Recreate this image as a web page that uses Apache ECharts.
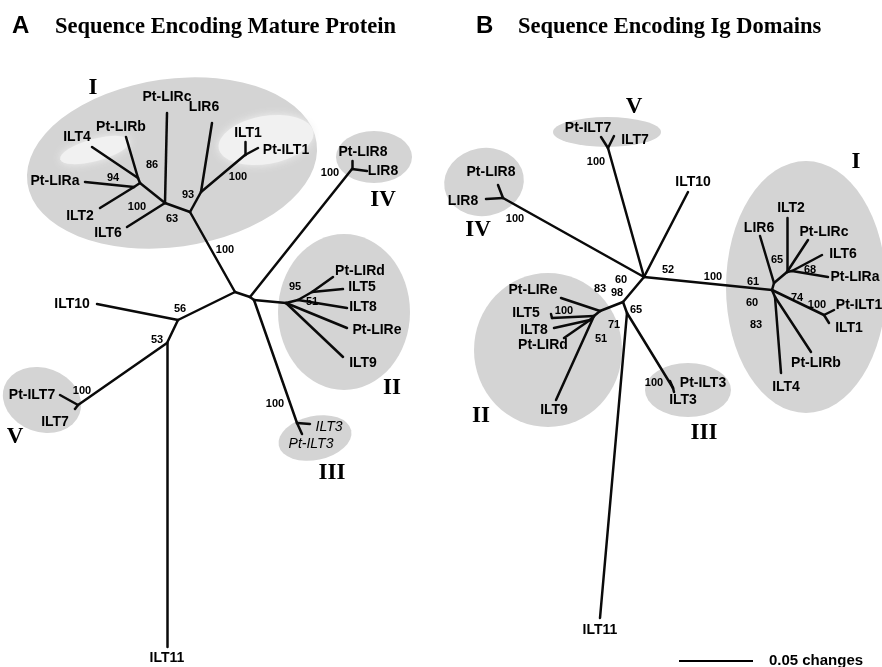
<!DOCTYPE html>
<html>
<head>
<meta charset="utf-8">
<script src="https://cdn.jsdelivr.net/npm/echarts@6/dist/echarts.min.js"></script>
<style>
html,body{margin:0;padding:0;background:#fff;}
#chart{width:882px;height:667px;}
</style>
</head>
<body>
<div id="chart"></div>
<script>
// Unrooted neighbour-joining trees: node positions in drawing units (branch lengths).
// Tree A: sequence encoding mature protein
const nodesA = [
  ['A.root', 235, 292], ['A.n1', 250, 297], ['A.n2', 254, 300],
  ['A.IV', 352, 169], ['A.Pt-LIR8', 352, 161], ['A.LIR8', 367, 171],
  ['A.II', 286, 303], ['A.II51', 298, 300], ['A.II95', 312, 292],
  ['A.Pt-LIRd', 333, 277], ['A.ILT5', 343, 289], ['A.ILT8', 347, 308],
  ['A.Pt-LIRe', 347, 328], ['A.ILT9', 343, 357],
  ['A.III', 297, 423], ['A.ILT3', 310, 424], ['A.Pt-ILT3', 302, 434],
  ['A.I', 190, 212], ['A.I63', 165, 203], ['A.I93', 201, 192],
  ['A.Pt-LIRc', 167, 113], ['A.ILT6', 127, 227], ['A.I100', 140, 183],
  ['A.I86', 138, 178], ['A.ILT4', 92, 147], ['A.Pt-LIRb', 126, 137],
  ['A.I94', 134, 187], ['A.Pt-LIRa', 85, 182], ['A.ILT2', 100, 208],
  ['A.LIR6', 212, 123], ['A.Ic1', 245, 155], ['A.ILT1', 245, 142], ['A.Pt-ILT1', 258, 148],
  ['A.n56', 178, 320], ['A.ILT10', 97, 304], ['A.n53', 167, 343],
  ['A.ILT11', 167, 647], ['A.V', 78, 405], ['A.Pt-ILT7', 60, 395], ['A.ILT7', 75, 409]
];
const edgesA = [
  ['A.root', 'A.I'], ['A.root', 'A.n1'], ['A.root', 'A.n56'],
  ['A.n1', 'A.IV'], ['A.IV', 'A.Pt-LIR8'], ['A.IV', 'A.LIR8'],
  ['A.n1', 'A.n2'], ['A.n2', 'A.II'], ['A.n2', 'A.III'],
  ['A.III', 'A.ILT3'], ['A.III', 'A.Pt-ILT3'],
  ['A.II', 'A.II51'], ['A.II51', 'A.II95'], ['A.II95', 'A.Pt-LIRd'], ['A.II95', 'A.ILT5'],
  ['A.II51', 'A.ILT8'], ['A.II', 'A.Pt-LIRe'], ['A.II', 'A.ILT9'],
  ['A.I', 'A.I63'], ['A.I', 'A.I93'],
  ['A.I63', 'A.Pt-LIRc'], ['A.I63', 'A.ILT6'], ['A.I63', 'A.I100'],
  ['A.I100', 'A.I86'], ['A.I86', 'A.ILT4'], ['A.I86', 'A.Pt-LIRb'],
  ['A.I100', 'A.I94'], ['A.I94', 'A.Pt-LIRa'], ['A.I94', 'A.ILT2'],
  ['A.I93', 'A.LIR6'], ['A.I93', 'A.Ic1'], ['A.Ic1', 'A.ILT1'], ['A.Ic1', 'A.Pt-ILT1'],
  ['A.n56', 'A.ILT10'], ['A.n56', 'A.n53'], ['A.n53', 'A.ILT11'], ['A.n53', 'A.V'],
  ['A.V', 'A.Pt-ILT7'], ['A.V', 'A.ILT7']
];

// Tree B: sequence encoding Ig domains
const nodesB = [
  ['B.root', 644, 277], ['B.ILT10', 688, 192],
  ['B.V', 608, 148], ['B.Pt-ILT7', 601, 137], ['B.ILT7', 614, 136],
  ['B.IV', 503, 198], ['B.Pt-LIR8', 498, 185], ['B.LIR8', 486, 199],
  ['B.n98', 623, 302], ['B.n65', 627, 313], ['B.ILT11', 600, 618],
  ['B.III', 673, 388], ['B.Pt-ILT3', 670, 381], ['B.ILT3', 674, 392],
  ['B.II', 600, 311], ['B.Pt-LIRe', 561, 298], ['B.II71', 594, 316],
  ['B.II100', 552, 318], ['B.ILT5', 551, 314], ['B.II51', 590, 320],
  ['B.ILT8', 554, 328], ['B.Pt-LIRd', 564, 338], ['B.ILT9', 556, 400],
  ['B.I', 772, 290], ['B.I61', 774, 283], ['B.LIR6', 760, 236],
  ['B.I65', 787, 272], ['B.ILT2', 787, 218], ['B.Pt-LIRc', 808, 240],
  ['B.I68', 792, 271], ['B.ILT6', 822, 255], ['B.Pt-LIRa', 828, 277],
  ['B.Ic1', 824, 315], ['B.Pt-ILT1', 834, 310], ['B.ILT1', 829, 323],
  ['B.I60', 775, 297], ['B.ILT4', 781, 373], ['B.Pt-LIRb', 811, 352]
];
const edgesB = [
  ['B.root', 'B.ILT10'], ['B.root', 'B.V'], ['B.V', 'B.Pt-ILT7'], ['B.V', 'B.ILT7'],
  ['B.root', 'B.IV'], ['B.IV', 'B.Pt-LIR8'], ['B.IV', 'B.LIR8'],
  ['B.root', 'B.I'], ['B.root', 'B.n98'],
  ['B.n98', 'B.II'], ['B.n98', 'B.n65'], ['B.n65', 'B.ILT11'], ['B.n65', 'B.III'],
  ['B.III', 'B.Pt-ILT3'], ['B.III', 'B.ILT3'],
  ['B.II', 'B.Pt-LIRe'], ['B.II', 'B.II71'], ['B.II71', 'B.II100'], ['B.II100', 'B.ILT5'],
  ['B.II71', 'B.II51'], ['B.II51', 'B.ILT8'], ['B.II51', 'B.Pt-LIRd'], ['B.II71', 'B.ILT9'],
  ['B.I', 'B.I61'], ['B.I61', 'B.LIR6'], ['B.I61', 'B.I65'],
  ['B.I65', 'B.ILT2'], ['B.I65', 'B.Pt-LIRc'], ['B.I65', 'B.I68'],
  ['B.I68', 'B.ILT6'], ['B.I68', 'B.Pt-LIRa'],
  ['B.I', 'B.Ic1'], ['B.Ic1', 'B.Pt-ILT1'], ['B.Ic1', 'B.ILT1'],
  ['B.I', 'B.I60'], ['B.I60', 'B.ILT4'], ['B.I60', 'B.Pt-LIRb']
];

// Taxon names (text, label anchor)
const taxaA = [
  ['Pt-LIRc', 167, 97], ['LIR6', 204, 107], ['ILT1', 248, 133], ['Pt-ILT1', 286, 150],
  ['ILT4', 77, 137], ['Pt-LIRb', 121, 127], ['Pt-LIRa', 55, 181], ['ILT2', 80, 216], ['ILT6', 108, 233],
  ['Pt-LIR8', 363, 152], ['LIR8', 383, 171],
  ['Pt-LIRd', 360, 271], ['ILT5', 362, 287], ['ILT8', 363, 307], ['Pt-LIRe', 377, 330], ['ILT9', 363, 363],
  ['ILT10', 72, 304], ['Pt-ILT7', 32, 395], ['ILT7', 55, 422], ['ILT11', 167, 658]
];
const italicTaxaA = [['ILT3', 329, 427], ['Pt-ILT3', 311, 444]];
const taxaB = [
  ['Pt-ILT7', 588, 128], ['ILT7', 635, 140], ['Pt-LIR8', 491, 172], ['LIR8', 463, 201], ['ILT10', 693, 182],
  ['Pt-LIRe', 533, 290], ['ILT5', 526, 313], ['ILT8', 534, 330], ['Pt-LIRd', 543, 345], ['ILT9', 554, 410],
  ['Pt-ILT3', 703, 383], ['ILT3', 683, 400], ['ILT11', 600, 630],
  ['ILT2', 791, 208], ['LIR6', 759, 228], ['Pt-LIRc', 824, 232], ['ILT6', 843, 254], ['Pt-LIRa', 855, 277],
  ['Pt-ILT1', 859, 305], ['ILT1', 849, 328], ['Pt-LIRb', 816, 363], ['ILT4', 786, 387]
];

// Bootstrap support values
const bootA = [
  ['86', 152, 165], ['94', 113, 178], ['100', 137, 207], ['63', 172, 219], ['93', 188, 195],
  ['100', 238, 177], ['100', 225, 250], ['100', 330, 173], ['95', 295, 287], ['51', 312, 302],
  ['56', 180, 309], ['53', 157, 340], ['100', 82, 391], ['100', 275, 404]
];
const bootB = [
  ['52', 668, 270], ['60', 621, 280], ['100', 713, 277], ['100', 515, 219], ['100', 596, 162],
  ['98', 617, 293], ['83', 600, 289], ['65', 636, 310], ['100', 564, 311], ['71', 614, 325],
  ['51', 601, 339], ['100', 654, 383], ['61', 753, 282], ['65', 777, 260], ['68', 810, 270],
  ['74', 797, 298], ['60', 752, 303], ['83', 756, 325], ['100', 817, 305]
];

// Clade names
const cladeNames = [
  ['I', 93, 88], ['IV', 383, 200], ['II', 392, 388], ['III', 332, 473], ['V', 15, 437],
  ['V', 634, 107], ['IV', 478, 230], ['I', 856, 162], ['II', 481, 416], ['III', 704, 433]
];

// Clade shading: centre x, centre y, radius x, radius y, tilt (deg), fill
const shadeFill = '#d4d4d4';
const pocketFill = '#f1f1f1';
const clades = [
  [172, 163, 146, 84, 8, shadeFill],
  [374, 157, 38, 26, 0, shadeFill],
  [344, 312, 66, 78, 0, shadeFill],
  [315, 438, 37, 22, 12, shadeFill],
  [42, 400, 40, 32, -20, shadeFill],
  [607, 132, 54, 15, 0, shadeFill],
  [484, 182, 40, 34, 10, shadeFill],
  [806, 287, 80, 126, 0, shadeFill],
  [548, 350, 74, 77, 0, shadeFill],
  [688, 390, 43, 27, 0, shadeFill],
  // lighter pockets inside clade I
  [266, 140, 48, 24, 10, pocketFill],
  [95, 150, 36, 11, 15, pocketFill]
];

// Scale bar: 0.05 substitutions per site
const scaleBar = [[679, 661], [753, 661]];
const scaleText = ['0.05 changes', 816, 661];

const SANS = '"Liberation Sans", Arial, Helvetica, sans-serif';
const SERIF = '"Liberation Serif", "Times New Roman", serif';
const INK = '#000000';

const pos = {};
nodesA.concat(nodesB).forEach(n => { pos[n[0]] = [n[1], n[2]]; });
const edgeData = edgesA.concat(edgesB).map(e => ({ coords: [pos[e[0]], pos[e[1]]] }));

function textSeries(list, font, size, weight, style) {
  return {
    type: 'scatter',
    symbolSize: 0,
    silent: true,
    z: 5,
    itemStyle: { opacity: 1 },
    data: list.map(t => ({ name: t[0], value: [t[1], t[2]] })),
    label: {
      show: true, position: 'inside', formatter: p => p.name,
      color: INK, textBorderWidth: 0, opacity: 1,
      fontFamily: font, fontSize: size, fontWeight: weight, fontStyle: style || 'normal'
    }
  };
}

const chart = echarts.init(document.getElementById('chart'), null, { renderer: 'canvas' });
chart.setOption({
  backgroundColor: '#ffffff',
  animation: false,
  grid: { left: 0, right: 0, top: 0, bottom: 0 },
  xAxis: { type: 'value', min: 0, max: 882, show: false },
  yAxis: { type: 'value', min: 0, max: 667, inverse: true, show: false },
  graphic: [
    { type: 'text', left: 12, top: 14, style: { text: 'A', font: 'bold 24px ' + SANS, fill: INK } },
    { type: 'text', left: 55, top: 16, style: { text: 'Sequence Encoding Mature Protein', font: 'bold 22.5px ' + SERIF, fill: INK } },
    { type: 'text', left: 476, top: 14, style: { text: 'B', font: 'bold 24px ' + SANS, fill: INK } },
    { type: 'text', left: 518, top: 16, style: { text: 'Sequence Encoding Ig Domains', font: 'bold 22.5px ' + SERIF, fill: INK } }
  ],
  series: [
    {
      type: 'custom',
      silent: true,
      z: 1,
      data: clades.map(c => c.slice(0, 5)),
      renderItem: (params, api) => {
        const c = api.coord([api.value(0), api.value(1)]);
        const s = api.size([api.value(2), api.value(3)]);
        const fill = clades[params.dataIndex][5];
        return {
          type: 'circle',
          x: c[0], y: c[1],
          scaleX: s[0], scaleY: s[1],
          rotation: api.value(4) * Math.PI / 180,
          shape: { cx: 0, cy: 0, r: 1 },
          style: { fill: fill, shadowBlur: fill === pocketFill ? 8 : 0, shadowColor: fill }
        };
      }
    },
    {
      type: 'lines',
      coordinateSystem: 'cartesian2d',
      silent: true,
      z: 3,
      data: edgeData,
      lineStyle: { color: '#0a0a0a', width: 2.5, opacity: 1, cap: 'round' }
    },
    {
      type: 'lines',
      coordinateSystem: 'cartesian2d',
      silent: true,
      z: 3,
      data: [{ coords: scaleBar }],
      lineStyle: { color: INK, width: 2, opacity: 1 }
    },
    textSeries(taxaA, SANS, 14, 'bold'),
    textSeries(italicTaxaA, SANS, 14, 'normal', 'italic'),
    textSeries(taxaB, SANS, 14, 'bold'),
    textSeries(bootA.concat(bootB), SANS, 11, 'bold'),
    textSeries(cladeNames, SERIF, 23, 'bold'),
    textSeries([scaleText], SANS, 15, 'bold')
  ]
});
</script>
</body>
</html>
